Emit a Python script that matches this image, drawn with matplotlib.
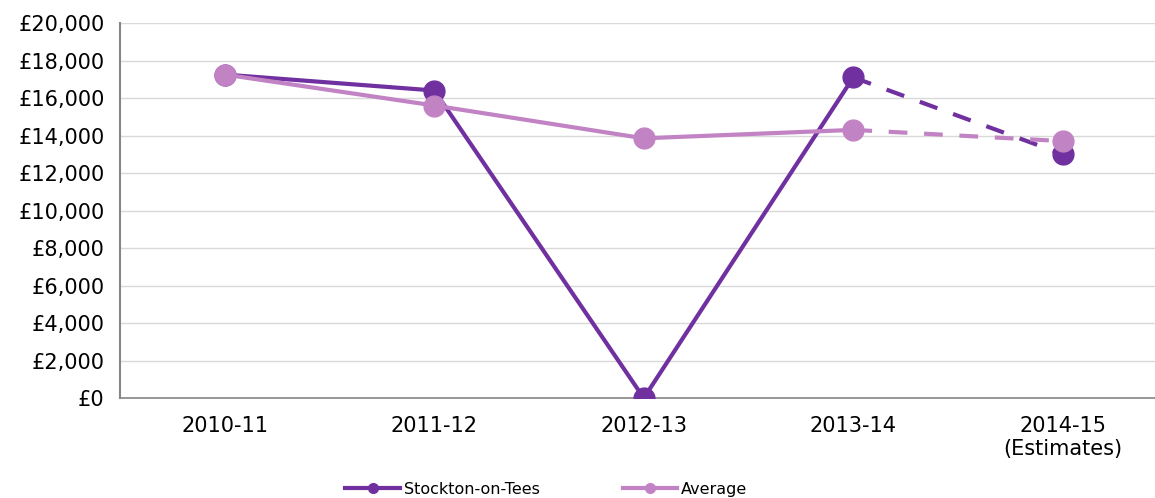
import matplotlib.pyplot as plt
from matplotlib.lines import Line2D

years = ["2010-11", "2011-12", "2012-13", "2013-14", "2014-15\n(Estimates)"]
stockton = [17250, 16400, 0, 17100, 13000]
average = [17250, 15600, 13850, 14300, 13700]

dark = "#7030A0"
light = "#C283C5"

fig = plt.figure(figsize=(11.55, 4.98), dpi=100)
ax = fig.add_axes([0.1039, 0.2008, 0.8961, 0.753])

x = list(range(len(years)))
dash = (0, (4.5, 4))
# solid part up to 2013-14, dashed to the estimate
ax.plot(x[:4], stockton[:4], color=dark, lw=3, zorder=3)
ax.plot(x[3:], stockton[3:], color=dark, lw=3, ls=dash, zorder=3)
ax.plot(x, stockton, ls="none", marker="o", ms=15, color=dark, zorder=4)

ax.plot(x[:4], average[:4], color=light, lw=3, zorder=5)
ax.plot(x[3:], average[3:], color=light, lw=3, ls=dash, zorder=5)
ax.plot(x, average, ls="none", marker="o", ms=15, color=light, zorder=6)

ax.set_ylim(0, 20000)
ax.set_xlim(-0.5, 4.44)
ax.set_yticks(range(0, 20001, 2000))
ax.set_yticklabels([f"£{v:,}" for v in range(0, 20001, 2000)])
ax.set_xticks(x)
ax.set_xticklabels(years)
ax.tick_params(length=0, labelsize=15, colors="black")
ax.tick_params(axis="x", pad=13)
ax.tick_params(axis="y", pad=11)
ax.grid(axis="y", color="#D9D9D9", lw=1)
ax.set_axisbelow(True)
for s in ["top", "right"]:
    ax.spines[s].set_visible(False)
ax.spines["left"].set_color("#868686")
ax.spines["bottom"].set_color("#868686")
ax.spines["left"].set_linewidth(1.5)
ax.spines["bottom"].set_linewidth(1.2)

handles = [Line2D([], [], color=dark, lw=3, marker="o", ms=7),
           Line2D([], [], color=light, lw=3, marker="o", ms=7)]
fig.legend(handles, ["Stockton-on-Tees", "Average"], loc="center",
           bbox_to_anchor=(0.473, 0.018), ncol=2, frameon=False, fontsize=11.5,
           handlelength=3.4, handletextpad=0.25, columnspacing=5.2)

fig.savefig("out.png", dpi=100)
